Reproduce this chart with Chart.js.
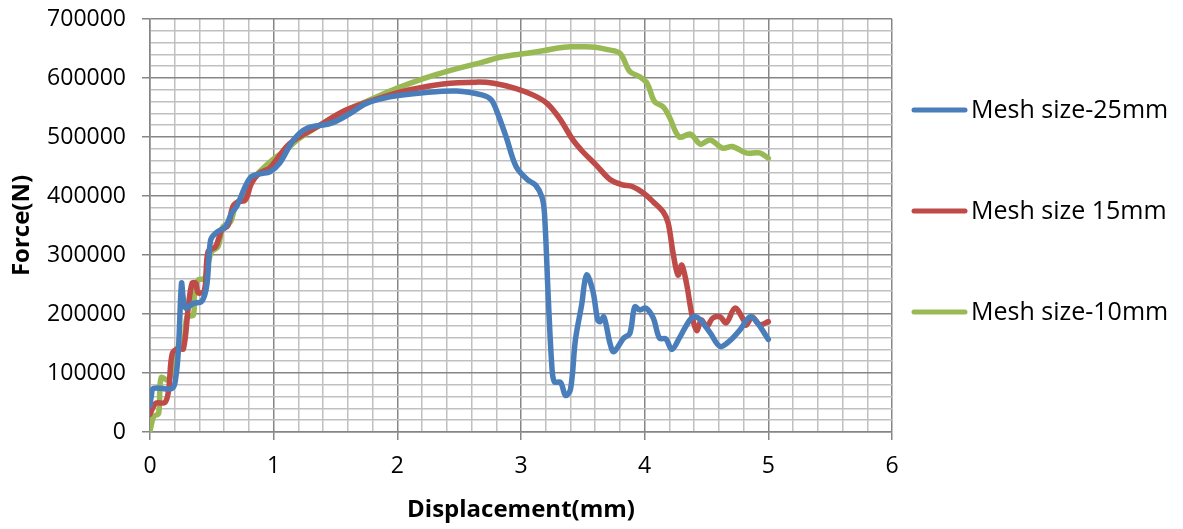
<!DOCTYPE html>
<html>
<head>
<meta charset="utf-8">
<script src="https://cdn.jsdelivr.net/npm/chart.js@4/dist/chart.umd.min.js"></script>
<style>
  html, body { margin: 0; padding: 0; background: #fff; }
  canvas { display: block; }
</style>
</head>
<body>
<canvas id="forceChart" width="1183" height="529"></canvas>
<script>
// series labels
const seriesNames = ['Mesh size-25mm', 'Mesh size 15mm', 'Mesh size-10mm'];

// Mesh size-25mm
const mesh25X = [0, 0.01, 0.03, 0.18, 0.21, 0.23, 0.255, 0.27, 0.29, 0.35, 0.42, 0.46, 0.49, 0.53, 0.61, 0.66, 0.70, 0.77, 0.82, 0.90, 0.97, 1.05, 1.16, 1.27, 1.46, 1.62, 1.75, 1.94, 2.21, 2.48, 2.69, 2.76, 2.80, 2.88, 2.96, 3.05, 3.12, 3.17, 3.19, 3.22, 3.25, 3.27, 3.32, 3.36, 3.40, 3.44, 3.49, 3.53, 3.58, 3.62, 3.64, 3.67, 3.72, 3.75, 3.83, 3.88, 3.92, 3.96, 4.01, 4.07, 4.12, 4.17, 4.22, 4.28, 4.33, 4.39, 4.44, 4.53, 4.61, 4.69, 4.77, 4.85, 4.90, 5.0];
const mesh25Y = [45000, 60000, 74000, 74000, 95000, 140000, 252000, 225000, 210000, 218000, 222000, 250000, 325000, 337000, 348000, 371000, 382000, 416000, 433000, 438000, 441000, 456000, 495000, 515000, 523000, 540000, 557000, 568000, 575000, 578000, 571000, 563000, 546000, 500000, 450000, 428000, 418000, 398000, 370000, 230000, 110000, 85000, 84000, 62000, 72000, 156000, 215000, 266000, 240000, 190000, 187000, 195000, 150000, 136000, 159000, 167000, 212000, 207000, 210000, 193000, 159000, 158000, 140000, 159000, 178000, 195000, 192000, 168000, 145000, 155000, 173000, 195000, 188000, 157000];

// Mesh size 15mm
const mesh15X = [0, 0.02, 0.05, 0.12, 0.15, 0.18, 0.23, 0.27, 0.31, 0.34, 0.37, 0.39, 0.44, 0.47, 0.53, 0.58, 0.63, 0.67, 0.71, 0.77, 0.82, 0.88, 0.96, 1.0, 1.13, 1.35, 1.59, 1.89, 2.10, 2.37, 2.64, 2.78, 2.96, 3.10, 3.21, 3.31, 3.42, 3.50, 3.61, 3.72, 3.82, 3.90, 3.99, 4.07, 4.15, 4.19, 4.23, 4.27, 4.30, 4.34, 4.38, 4.42, 4.46, 4.50, 4.55, 4.61, 4.66, 4.73, 4.80, 4.82, 4.87, 4.93, 5.0];
const mesh15Y = [30000, 40000, 49000, 50000, 70000, 133000, 142000, 141000, 212000, 252000, 252000, 236000, 240000, 306000, 314000, 342000, 350000, 382000, 390000, 393000, 421000, 438000, 446000, 455000, 489000, 517000, 546000, 568000, 580000, 590000, 593000, 591000, 582000, 571000, 557000, 532000, 495000, 475000, 452000, 428000, 419000, 416000, 405000, 390000, 373000, 354000, 303000, 266000, 283000, 250000, 201000, 172000, 190000, 178000, 193000, 195000, 185000, 210000, 190000, 181000, 195000, 182000, 187000];

// Mesh size-10mm
const mesh10X = [0, 0.03, 0.07, 0.09, 0.15, 0.19, 0.22, 0.27, 0.30, 0.35, 0.36, 0.39, 0.44, 0.47, 0.50, 0.55, 0.59, 0.65, 0.70, 0.77, 0.82, 0.88, 1.0, 1.10, 1.19, 1.35, 1.56, 1.78, 1.99, 2.21, 2.43, 2.69, 2.85, 3.05, 3.2, 3.3, 3.4, 3.5, 3.6, 3.7, 3.80, 3.88, 3.96, 4.02, 4.08, 4.15, 4.20, 4.28, 4.37, 4.45, 4.53, 4.63, 4.71, 4.82, 4.93, 5.0];
const mesh10Y = [2000, 26000, 32000, 92000, 88000, 116000, 142000, 150000, 195000, 198000, 235000, 258000, 260000, 286000, 306000, 314000, 348000, 356000, 388000, 398000, 425000, 440000, 463000, 478000, 495000, 517000, 543000, 563000, 582000, 599000, 613000, 627000, 636000, 642000, 647000, 651000, 653000, 653000, 652000, 648000, 642000, 611000, 602000, 591000, 560000, 551000, 534000, 500000, 505000, 488000, 495000, 481000, 484000, 473000, 473000, 464000];

const lineColors = ['#4A7EBB', '#BE4B48', '#98B954'];

const xMin = 0, xMax = 6, xMinor = 0.2;
const yMin = 0, yMax = 700000, yMinor = 20000, yMajor = 100000;

function toPoints(xs, ys) {
  return xs.map((x, i) => ({ x: x, y: ys[i] }));
}

const MAJOR = '#868686';
const MINOR = '#c0c0c0';
const FONT = "'Open Sans', 'DejaVu Sans', sans-serif";

function isXMajor(v) { return Math.abs(v - Math.round(v)) < 1e-9; }
function isYMajor(v) { return Math.abs(v % yMajor) < 1e-6; }

// legend drawn on the right, like the spreadsheet one
const sideLegend = {
  id: 'sideLegend',
  afterDraw(chart) {
    const ctx = chart.ctx;
    const rows = [110, 211, 312];
    ctx.save();
    ctx.font = '25px ' + FONT;
    ctx.textBaseline = 'middle';
    ctx.fillStyle = '#000';
    chart.data.datasets.forEach((ds, i) => {
      const y = rows[i];
      ctx.strokeStyle = ds.borderColor;
      ctx.lineWidth = 5;
      ctx.lineCap = 'round';
      ctx.beginPath();
      ctx.moveTo(914, y);
      ctx.lineTo(965, y);
      ctx.stroke();
      ctx.fillText(ds.label, 971, y + 1);
    });
    ctx.restore();
  }
};

const ctx = document.getElementById('forceChart');
const myChart = new Chart(ctx, {
  type: 'line',
  data: {
    datasets: [
      { label: seriesNames[0], data: toPoints(mesh25X, mesh25Y), borderColor: lineColors[0] },
      { label: seriesNames[1], data: toPoints(mesh15X, mesh15Y), borderColor: lineColors[1] },
      { label: seriesNames[2], data: toPoints(mesh10X, mesh10Y), borderColor: lineColors[2] },
    ]
  },
  options: {
    responsive: false,
    animation: false,
    devicePixelRatio: 1,
    layout: { padding: { left: 0, right: 291, top: 19, bottom: 0 } },
    elements: {
      point: { radius: 0 },
      line: { borderWidth: 5.5, tension: 0.35, fill: false, borderCapStyle: 'round', borderJoinStyle: 'round' }
    },
    plugins: {
      legend: { display: false },
      tooltip: { enabled: false }
    },
    scales: {
      x: {
        type: 'linear',
        min: xMin,
        max: xMax,
        afterFit(scale) { scale.height = 97; },
        ticks: {
          stepSize: xMinor,
          maxTicksLimit: 100,
          autoSkip: false,
          maxRotation: 0,
          padding: 13,
          color: '#000',
          font: { family: FONT, size: 23 },
          callback: v => isXMajor(v) ? String(Math.round(v)) : ''
        },
        grid: {
          color: c => isXMajor(c.tick.value) ? MAJOR : MINOR,
          lineWidth: 1.5,
          tickLength: 8,
          tickColor: c => isXMajor(c.tick.value) ? MAJOR : 'rgba(0,0,0,0)'
        },
        border: { color: MAJOR, width: 1.5 },
        title: {
          display: true,
          text: 'Displacement(mm)',
          color: '#000',
          font: { family: FONT, size: 24, weight: 'bold' },
          padding: { top: 0, bottom: 4 }
        }
      },
      y: {
        type: 'linear',
        min: yMin,
        max: yMax,
        afterFit(scale) {
          scale.width = 150;
          scale.paddingTop = 0;
          scale.paddingBottom = 0;
        },
        ticks: {
          stepSize: yMinor,
          maxTicksLimit: 100,
          autoSkip: false,
          padding: 16,
          color: '#000',
          font: { family: FONT, size: 23 },
          callback: v => isYMajor(v) ? String(v) : ''
        },
        grid: {
          color: c => isYMajor(c.tick.value) ? MAJOR : MINOR,
          lineWidth: 1.5,
          tickLength: 8,
          tickColor: c => isYMajor(c.tick.value) ? MAJOR : 'rgba(0,0,0,0)'
        },
        border: { color: MAJOR, width: 1.5 },
        title: {
          display: true,
          text: 'Force(N)',
          color: '#000',
          font: { family: FONT, size: 24, weight: 'bold' },
          padding: { top: 8, bottom: 0 }
        }
      }
    }
  },
  plugins: [sideLegend]
});
</script>
</body>
</html>
